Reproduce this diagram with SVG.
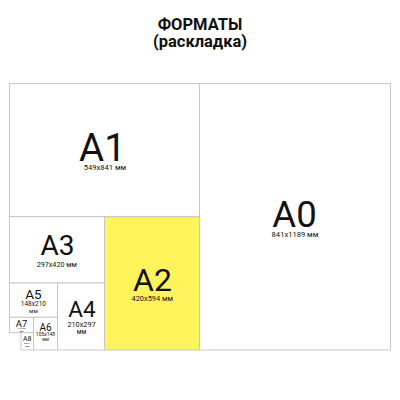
<svg xmlns="http://www.w3.org/2000/svg" width="400" height="400" viewBox="0 0 400 400">
<style>
.b{fill:#fff;stroke:#c4c4c4;stroke-width:0.9}
.y{fill:#fff35c;stroke:#c4c4c4;stroke-width:0.9}
text{font-family:Roboto,"Liberation Sans",sans-serif;fill:#111;text-anchor:middle}
.t{font-weight:bold;font-size:16.5px}
</style>
<rect width="400" height="400" fill="#fff"/>
<g id="title">
<text class="t" x="200" y="30">ФОРМАТЫ</text>
<text class="t" x="200" y="47">(раскладка)</text>
</g>
<g id="A0"><rect class="b" x="199.5" y="83.5" width="191" height="266.5"/>
<text x="294.5" y="226.7" font-size="36.5">A0</text>
<text x="295" y="236.7" font-size="7.6">841x1189 мм</text></g>
<g id="A1"><rect class="b" x="9.5" y="83.5" width="190" height="133.2"/>
<text x="102.5" y="160.7" font-size="38.5">A1</text>
<text x="105" y="170" font-size="7.6">549x841 мм</text></g>
<g id="A2"><rect class="y" x="104.5" y="216.7" width="95" height="133.3"/>
<text x="152.5" y="291" font-size="32">A2</text>
<text x="152.2" y="300.7" font-size="7.4">420x594 мм</text></g>
<g id="A3"><rect class="b" x="9.5" y="216.7" width="95" height="66.3"/>
<text x="57.5" y="255" font-size="28">A3</text>
<text x="56.8" y="266.7" font-size="7.2">297x420 мм</text></g>
<g id="A4"><rect class="b" x="57.5" y="283" width="47" height="67"/>
<text x="82" y="316.7" font-size="22.5">A4</text>
<text x="81.5" y="326.7" font-size="7.3">210x297</text>
<text x="81.5" y="334.3" font-size="6.5">мм</text></g>
<g id="A5"><rect class="b" x="9.5" y="283" width="48" height="34.3"/>
<text x="33.4" y="299.3" font-size="13.5">A5</text>
<text x="33.4" y="306.2" font-size="6.5">148x210</text>
<text x="33.4" y="313.3" font-size="5.8">мм</text></g>
<g id="A6"><rect class="b" x="33.5" y="317.3" width="24" height="32.7"/>
<text x="45.6" y="331" font-size="10">A6</text>
<text x="45.5" y="336.2" font-size="5">105x148</text>
<text x="45.5" y="340.8" font-size="4.5">мм</text></g>
<g id="A7"><rect class="b" x="9.5" y="317.3" width="24" height="15.4"/>
<text x="21.6" y="326.7" font-size="9.5">A7</text>
<text x="21.5" y="329" font-size="2.4">74x105</text>
<text x="21.5" y="331.8" font-size="2.4">мм</text></g>
<g id="A8"><rect class="b" x="21" y="332.7" width="12.5" height="17.3"/>
<text x="27.2" y="341" font-size="7">A8</text>
<text x="27.2" y="344.3" font-size="2.3">52x74</text>
<text x="27.2" y="347.4" font-size="2.3">мм</text></g>
<g id="connectors"/>
</svg>
